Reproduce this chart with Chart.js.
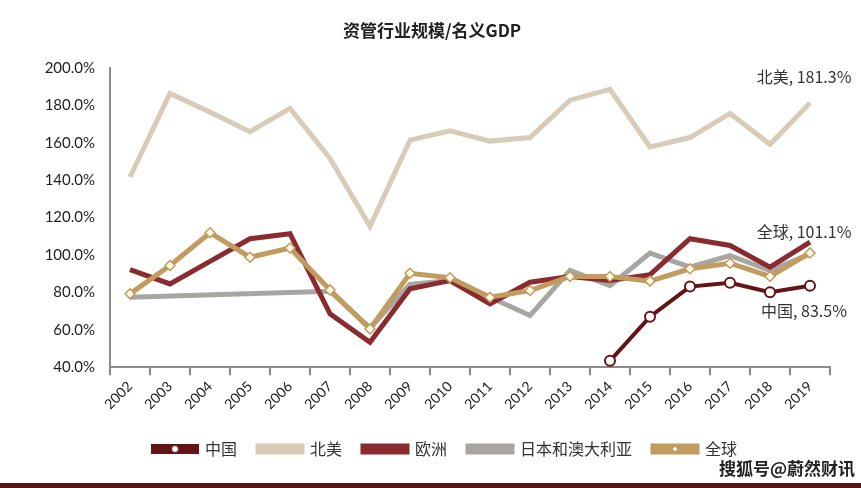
<!DOCTYPE html>
<html>
<head>
<meta charset="utf-8">
<script src="https://cdn.jsdelivr.net/npm/chart.js@4"></script>
<style>
  body { margin: 0; background: #fff; }
</style>
</head>
<body>
<canvas id="assetChart" width="861" height="488"></canvas>
<script>
// years on the x axis
const years = ['2002','2003','2004','2005','2006','2007','2008','2009','2010',
               '2011','2012','2013','2014','2015','2016','2017','2018','2019'];

// AUM / nominal GDP, %
const china   = [null,null,null,null,null,null,null,null,null,null,null,null,43.4,67.0,83.1,85.1,80.1,83.5];
const northAm = [141.7,186.4,176.4,165.9,178.4,151.6,115.3,161.4,166.4,160.9,162.8,182.8,188.6,157.8,162.8,175.7,159.2,181.3];
const europe  = [92.2,84.5,96.6,108.7,111.4,68.5,53.3,81.9,86.3,73.8,85.4,88.5,86.3,89.5,108.7,105.1,93.5,106.9];
const japanAu = [77.4,null,null,null,null,80.6,61.0,84.2,86.3,77.4,67.6,91.7,83.6,101.0,93.5,99.7,91.7,100.5];
const global  = [79.2,94.4,111.9,98.8,103.7,81.3,60.4,90.2,87.8,77.4,81.0,88.5,88.5,86.0,92.6,95.6,88.5,101.1];

const yTicks = [40, 60, 80, 100, 120, 140, 160, 180, 200];

// end labels
const endLabels = [
    {ds: 1, text: '北美, 181.3%', dy: -26},
    {ds: 4, text: '全球, 101.1%', dy: -21},
    {ds: 0, text: '中国, 83.5%', dy: 25}
];

const cjk = '"Noto Sans CJK SC", sans-serif';

const extras = {
    id: 'extras',
    afterLayout(chart) {
        // title and legend sit a bit right of the plot centre in the original
        chart.titleBlock.left += 17;
        chart.titleBlock.right += 17;
        chart.legend.left += 30;
        chart.legend.right += 30;
    },
    afterDatasetsDraw(chart) {
        const ctx = chart.ctx;
        ctx.save();
        ctx.font = '16px ' + cjk;
        ctx.fillStyle = '#333';
        ctx.textAlign = 'center';
        ctx.textBaseline = 'middle';
        endLabels.forEach(l => {
            const pts = chart.getDatasetMeta(l.ds).data;
            const p = pts[pts.length - 1];
            ctx.fillText(l.text, p.x - 6, p.y + l.dy);
        });
        ctx.restore();
    },
    afterDraw(chart) {
        const ctx = chart.ctx;
        ctx.save();
        // little markers inside the legend lines
        const boxes = chart.legend.legendHitBoxes;
        const bw = chart.legend.options.labels.boxWidth;
        boxes.forEach((b, i) => {
            const cx = b.left + bw / 2, cy = b.top + b.height / 2;
            const ds = chart.data.datasets[i];
            if (ds.pointRadius === 0) return;
            ctx.fillStyle = '#fff';
            ctx.strokeStyle = ds.borderColor;
            ctx.lineWidth = 1;
            ctx.beginPath();
            if (ds.pointStyle === 'rectRot') {
                ctx.moveTo(cx, cy - 3); ctx.lineTo(cx + 3, cy);
                ctx.lineTo(cx, cy + 3); ctx.lineTo(cx - 3, cy);
                ctx.closePath();
            } else {
                ctx.arc(cx, cy, 3.5, 0, Math.PI * 2);
            }
            ctx.fill();
            ctx.stroke();
        });
        // watermark
        ctx.font = 'bold 17px ' + cjk;
        ctx.textAlign = 'right';
        ctx.textBaseline = 'middle';
        ctx.lineWidth = 3;
        ctx.strokeStyle = '#fff';
        ctx.strokeText('搜狐号@蔚然财讯', 855, 469);
        ctx.fillStyle = '#222';
        ctx.fillText('搜狐号@蔚然财讯', 855, 469);
        // bottom band
        ctx.fillStyle = '#5a1418';
        ctx.fillRect(0, 483, chart.width, 5);
        ctx.restore();
    }
};

const ctx1 = document.getElementById('assetChart');
new Chart(ctx1, {
    type: 'line',
    data: {
        labels: years,
        datasets: [{
            label: '中国',
            data: china,
            borderColor: '#641416',
            backgroundColor: '#641416',
            borderWidth: 4,
            pointRadius: 5,
            pointBorderWidth: 2,
            pointBackgroundColor: '#fff',
            pointBorderColor: '#641416',
            order: 0
        }, {
            label: '北美',
            data: northAm,
            borderColor: '#d8ccb8',
            backgroundColor: '#d8ccb8',
            borderWidth: 5,
            pointRadius: 0,
            order: 4
        }, {
            label: '欧洲',
            data: europe,
            borderColor: '#8a2b2f',
            backgroundColor: '#8a2b2f',
            borderWidth: 5,
            pointRadius: 0,
            order: 2
        }, {
            label: '日本和澳大利亚',
            data: japanAu,
            borderColor: '#a7a6a2',
            backgroundColor: '#a7a6a2',
            borderWidth: 5,
            pointRadius: 0,
            spanGaps: true,
            order: 3
        }, {
            label: '全球',
            data: global,
            borderColor: '#c29b5f',
            backgroundColor: '#c29b5f',
            borderWidth: 5,
            pointStyle: 'rectRot',
            pointRadius: 5,
            pointBorderWidth: 1.5,
            pointBackgroundColor: '#fffbe8',
            pointBorderColor: '#c29b5f',
            order: 1
        }]
    },
    options: {
        responsive: false,
        animation: false,
        layout: {
            padding: {left: 0, right: 31, top: 0, bottom: 21}
        },
        plugins: {
            title: {
                display: true,
                text: '资管行业规模/名义GDP',
                color: '#222',
                font: {family: cjk, size: 17, weight: 'bold'},
                padding: {top: 20, bottom: 27.6}
            },
            legend: {
                position: 'bottom',
                labels: {
                    boxWidth: 44,
                    boxHeight: 6,
                    padding: 21,
                    color: '#333',
                    font: {family: cjk, size: 16},
                    sort: (a, b) => a.datasetIndex - b.datasetIndex
                }
            },
            tooltip: {enabled: false}
        },
        scales: {
            x: {
                offset: true,
                afterFit: s => { s.height += 4; },
                grid: {
                    display: true,
                    offset: true,
                    drawOnChartArea: false,
                    tickLength: 8,
                    color: '#8c8c8c',
                    lineWidth: 2
                },
                border: {display: true, color: '#8c8c8c', width: 2},
                ticks: {
                    color: '#222',
                    font: {family: 'Lato, sans-serif', size: 14},
                    maxRotation: 45,
                    minRotation: 45,
                    autoSkip: false
                }
            },
            y: {
                min: 40,
                max: 200,
                afterBuildTicks: s => { s.ticks = yTicks.map(v => ({value: v})); },
                afterFit: s => { s.width = 110; },
                grid: {display: false, drawTicks: false},
                border: {display: true, color: '#8c8c8c', width: 2},
                ticks: {
                    padding: 15,
                    color: '#222',
                    font: {family: 'Lato, sans-serif', size: 15},
                    callback: v => v.toFixed(1) + '%'
                }
            }
        }
    },
    plugins: [extras]
});
</script>
</body>
</html>
